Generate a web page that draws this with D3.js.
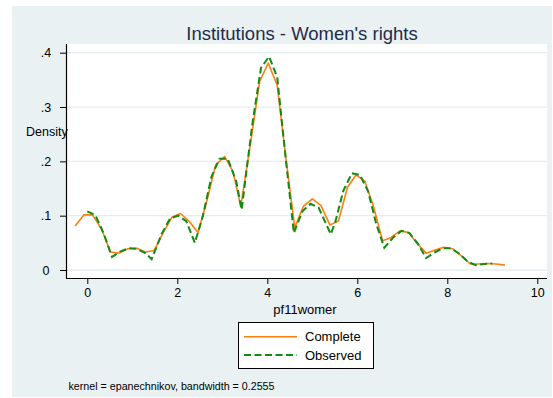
<!DOCTYPE html>
<html>
<head>
<meta charset="utf-8">
<script src="https://cdn.jsdelivr.net/npm/d3@7"></script>
<style>
  html, body { margin: 0; padding: 0; background: #ffffff; }
  svg { display: block; font-family: "Liberation Sans", Arial, Helvetica, sans-serif; }
</style>
</head>
<body>
<svg id="chart" width="553" height="398"></svg>
<script>
// Kernel density estimates of pf11womer (Complete vs Observed)
const completeX = [-0.27, -0.07, 0.12, 0.32, 0.51, 0.71, 0.90, 1.10, 1.29, 1.49,
                   1.68, 1.88, 2.07, 2.27, 2.46, 2.66, 2.85, 3.05, 3.24, 3.41,
                   3.63, 3.83, 4.02, 4.22, 4.41, 4.61, 4.80, 5.00, 5.19, 5.39,
                   5.58, 5.78, 5.97, 6.17, 6.36, 6.56, 6.75, 6.95, 7.14, 7.34,
                   7.53, 7.73, 7.92, 8.12, 8.31, 8.51, 8.70, 8.90, 9.09, 9.28];
const completeY = [0.081, 0.102, 0.101, 0.075, 0.033, 0.031, 0.039, 0.040, 0.033, 0.036,
                   0.068, 0.097, 0.104, 0.089, 0.069, 0.128, 0.193, 0.209, 0.181, 0.117,
                   0.235, 0.347, 0.381, 0.340, 0.208, 0.078, 0.117, 0.131, 0.119, 0.083,
                   0.090, 0.152, 0.175, 0.163, 0.117, 0.054, 0.060, 0.072, 0.069, 0.048,
                   0.031, 0.037, 0.042, 0.039, 0.026, 0.011, 0.011, 0.012, 0.011, 0.009];

const observedX = [0.00, 0.18, 0.37, 0.55, 0.73, 0.92, 1.10, 1.29, 1.43, 1.65,
                   1.84, 2.02, 2.20, 2.39, 2.57, 2.76, 2.94, 3.12, 3.31, 3.43,
                   3.67, 3.86, 4.04, 4.22, 4.41, 4.59, 4.78, 4.96, 5.14, 5.41,
                   5.51, 5.69, 5.88, 6.06, 6.24, 6.42, 6.60, 6.80, 6.98, 7.16,
                   7.35, 7.53, 7.71, 7.90, 8.08, 8.27, 8.45, 8.63, 8.82, 9.00];
const observedY = [0.108, 0.101, 0.066, 0.024, 0.034, 0.040, 0.039, 0.031, 0.020, 0.066,
                   0.095, 0.100, 0.090, 0.050, 0.100, 0.172, 0.205, 0.205, 0.163, 0.111,
                   0.270, 0.372, 0.393, 0.355, 0.205, 0.068, 0.108, 0.122, 0.115, 0.066,
                   0.088, 0.146, 0.178, 0.175, 0.145, 0.085, 0.041, 0.060, 0.072, 0.068,
                   0.048, 0.022, 0.032, 0.040, 0.040, 0.030, 0.016, 0.009, 0.011, 0.012];

const xTicks = [0, 2, 4, 6, 8, 10];
const yTicks = [0, 0.1, 0.2, 0.3, 0.4];
const yTickLabels = ["0", ".1", ".2", ".3", ".4"];

const seriesNames = ["Complete", "Observed"];
const seriesColors = ["#ff7f0e", "#138a13"];

const svg = d3.select("#chart");

// Graph region
const bgColor = "#e9f1f3";
svg.append("rect").attr("x", 12).attr("y", 6).attr("width", 540).attr("height", 391)
  .attr("fill", bgColor);

// Plot region
const plot = { left: 66, right: 547, top: 44, bottom: 278 };
svg.append("rect").attr("x", plot.left).attr("y", plot.top)
  .attr("width", plot.right - plot.left).attr("height", plot.bottom - plot.top)
  .attr("fill", "#ffffff");

const x = d3.scaleLinear().domain([0, 10]).range([87.3, 537.3]);
const y = d3.scaleLinear().domain([0, 0.4]).range([270, 52.7]);

// Horizontal grid lines
svg.append("g").selectAll("line").data(yTicks).join("line")
  .attr("x1", plot.left + 1).attr("x2", plot.right)
  .attr("y1", d => y(d)).attr("y2", d => y(d))
  .attr("stroke", "#e4edf0").attr("stroke-width", 1.3);

// Y axis
const yAxis = svg.append("g").attr("transform", `translate(${plot.left},0)`)
  .call(d3.axisLeft(y).tickValues(yTicks).tickSize(6).tickPadding(0)
    .tickFormat((d, i) => yTickLabels[i]));
yAxis.select(".domain").attr("d", `M0.5,${plot.top}V${plot.bottom}`).attr("stroke", "#000").attr("stroke-width", 1.2);
yAxis.selectAll(".tick line").attr("stroke", "#000").attr("stroke-width", 1);
yAxis.selectAll(".tick text").attr("x", -20).attr("text-anchor", "middle")
  .attr("font-size", 12.5).attr("font-family", "Liberation Sans, Arial, sans-serif").attr("fill", "#000");

// X axis
const xAxis = svg.append("g").attr("transform", `translate(0,${plot.bottom})`)
  .call(d3.axisBottom(x).tickValues(xTicks).tickSize(6).tickPadding(4)
    .tickFormat(d3.format("d")));
xAxis.select(".domain").attr("d", `M${plot.left},0.5H${plot.right}`).attr("stroke", "#000").attr("stroke-width", 1.2);
xAxis.selectAll(".tick line").attr("stroke", "#000").attr("stroke-width", 1);
xAxis.selectAll(".tick text").attr("font-size", 12.5)
  .attr("font-family", "Liberation Sans, Arial, sans-serif").attr("fill", "#000");

// Density curves
const line = d3.line().x(d => x(d[0])).y(d => y(d[1]));
const completeData = completeX.map((v, i) => [v, completeY[i]]);
const observedData = observedX.map((v, i) => [v, observedY[i]]);

svg.append("path").datum(completeData).attr("d", line)
  .attr("fill", "none").attr("stroke", seriesColors[0]).attr("stroke-width", 1.6)
  .attr("stroke-linejoin", "round");
svg.append("path").datum(observedData).attr("d", line)
  .attr("fill", "none").attr("stroke", seriesColors[1]).attr("stroke-width", 2)
  .attr("stroke-dasharray", "7,3.5");

// Titles
svg.append("text").attr("x", 302).attr("y", 40).attr("text-anchor", "middle")
  .attr("font-size", 18.5).attr("fill", "#1e2c4a").text("Institutions - Women's rights");
svg.append("text").attr("x", 26).attr("y", 135.5)
  .attr("font-size", 12.5).attr("fill", "#000").text("Density");
svg.append("text").attr("x", 305).attr("y", 314).attr("text-anchor", "middle")
  .attr("font-size", 13).attr("fill", "#000").text("pf11womer");

// Legend
const legend = svg.append("g");
legend.append("rect").attr("x", 238.5).attr("y", 322.5).attr("width", 135).attr("height", 46)
  .attr("fill", "#ffffff").attr("stroke", "#000").attr("stroke-width", 1);
const legendRows = [336.7, 355];
seriesNames.forEach((name, i) => {
  legend.append("line").attr("x1", 244).attr("x2", 297)
    .attr("y1", legendRows[i]).attr("y2", legendRows[i])
    .attr("stroke", seriesColors[i]).attr("stroke-width", i === 0 ? 1.6 : 2)
    .attr("stroke-dasharray", i === 0 ? null : "7,3.5");
  legend.append("text").attr("x", 305).attr("y", legendRows[i] + 4.6)
    .attr("font-size", 13).attr("fill", "#000").text(name);
});

// Note
svg.append("text").attr("x", 68.5).attr("y", 390)
  .attr("font-size", 10.7).attr("fill", "#000")
  .text("kernel = epanechnikov, bandwidth = 0.2555");
</script>
</body>
</html>
